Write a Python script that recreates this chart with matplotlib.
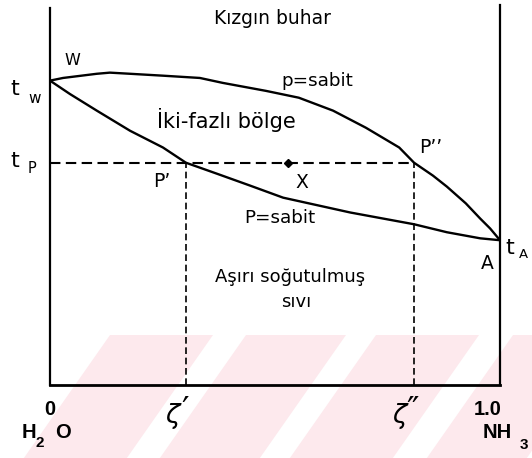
import matplotlib
matplotlib.use("Agg")
import matplotlib.pyplot as plt
from matplotlib.patches import Polygon

# Mole fraction of NH3 (0 = pure H2O, 1 = pure NH3) and temperature (arbitrary scale)
dew_x = [0.0, 0.029, 0.104, 0.133, 0.178, 0.251, 0.333, 0.384, 0.480, 0.553,
         0.629, 0.702, 0.776, 0.809, 0.851, 0.882, 0.924, 0.956, 0.978, 1.0]
dew_t = [80.1, 80.8, 81.9, 82.2, 81.9, 81.4, 80.8, 79.5, 77.4, 75.6,
         72.2, 67.7, 62.5, 58.5, 55.1, 52.2, 47.8, 43.8, 41.2, 38.1]

bubble_x = [0.0, 0.044, 0.104, 0.178, 0.251, 0.302, 0.371, 0.444, 0.518,
            0.667, 0.809, 0.882, 0.956, 1.0]
bubble_t = [80.1, 76.6, 72.2, 66.9, 62.5, 58.5, 55.6, 52.5, 49.3,
            45.4, 42.3, 40.2, 38.6, 38.1]

t_w = 80.1          # boiling point of water
t_p = 58.5          # mixture temperature
t_a = 38.1          # boiling point of ammonia
zeta_liq = 0.302    # ζ'  liquid composition
zeta_vap = 0.809    # ζ'' vapour composition
x_mix = 0.529       # overall composition X

W, H = 532, 458
fig = plt.figure(figsize=(W / 100, H / 100), dpi=100, facecolor="white")


def fp(px, py):
    """Pixel position (from top-left) to figure fraction."""
    return px / W, 1 - py / H


# Light diagonal stripes in the lower band of the page
pink = "#fde9ed"
y0, y1 = 335, 458
shift = -0.7 * (y1 - y0)
for left, width in [(110, 103), (246, 100), (376, 103), (513, 100)]:
    pts = [fp(left, y0), fp(left + width, y0),
           fp(left + width + shift, y1), fp(left + shift, y1)]
    fig.patches.append(Polygon(pts, closed=True, transform=fig.transFigure,
                               facecolor=pink, edgecolor="none", zorder=-10))

ax = fig.add_axes([50 / W, 1 - 385 / H, 450 / W, 380 / H])
ax.set_zorder(1)
ax.set_facecolor("none")
ax.set_xlim(0, 1)
ax.set_ylim(0, 100)
ax.set_xticks([])
ax.set_yticks([])
ax.spines["top"].set_visible(False)
for s in ("left", "right"):
    ax.spines[s].set_linewidth(1.6)
ax.spines["bottom"].set_linewidth(2.0)
ax.spines["left"].set_bounds(0, 99.2)

# Phase-boundary curves
ax.plot(dew_x, dew_t, color="black", lw=1.7, solid_capstyle="round",
        solid_joinstyle="round", zorder=3)
ax.plot(bubble_x, bubble_t, color="black", lw=1.7, solid_capstyle="round",
        solid_joinstyle="round", zorder=3)

# Tie line and composition projections
ax.plot([0, zeta_vap], [t_p, t_p], color="black", lw=1.5,
        linestyle=(0, (5, 2.6)), zorder=2)
ax.plot([zeta_liq, zeta_liq], [0, t_p], color="black", lw=1.2,
        linestyle=(0, (4, 2.2)), zorder=2)
ax.plot([zeta_vap, zeta_vap], [0, t_p], color="black", lw=1.2,
        linestyle=(0, (4, 2.2)), zorder=2)
ax.plot([x_mix], [t_p], marker="D", markersize=4.5, color="black", zorder=4)

txt = dict(color="black", family="DejaVu Sans")


def label(px, py, s, size, ha="center", va="baseline", **kw):
    x, y = fp(px, py)
    opts = dict(txt)
    opts.update(kw)
    fig.text(x, y, s, fontsize=size, ha=ha, va=va, zorder=5, **opts)


# Region names and curve labels
label(273, 24, "Kızgın buhar", 13.5)
label(317, 86, "p=sabit", 13.2)
label(226, 128, "İki-fazlı bölge", 15.0)
label(280, 223, "P=sabit", 13.2)
label(290, 282, "Aşırı soğutulmuş", 13.0)
label(296, 307, "sıvı", 13.0)

# Point labels
label(72, 65, "W", 11.5)
label(153, 187, "P’", 13.5, ha="left")
label(419, 153, "P’’", 13.5, ha="left")
label(302, 188, "X", 13.5)
label(487, 269, "A", 13.5)

# Temperature marks on the axes
label(10, 95, "t", 16, ha="left")
label(28, 103, "w", 11, ha="left")
label(10, 167, "t", 16, ha="left")
label(28, 173, "P", 10.5, ha="left")
label(505, 254, "t", 16, ha="left")
label(519, 258, "A", 9.5, ha="left")

# Composition axis labels
bold = dict(family="Liberation Sans", fontweight="bold")
label(50, 415, "0", 14.5, **bold)
label(488, 415, "1.0", 14.5, **bold)
label(22, 438, "H", 14.5, ha="left", **bold)
label(36, 447, "2", 11, ha="left", **bold)
label(55, 438, "O", 14.5, ha="left", **bold)
label(483, 438, "NH", 14.5, ha="left", **bold)
label(520, 449, "3", 11, ha="left", **bold)
label(172, 416, "ζ", 19, va="center", style="italic")
label(185, 412, "′", 24, va="center")
label(399, 416, "ζ", 19, va="center", style="italic")
label(413, 412, "″", 24, va="center")

fig.savefig("out.png", dpi=100, facecolor="white")
